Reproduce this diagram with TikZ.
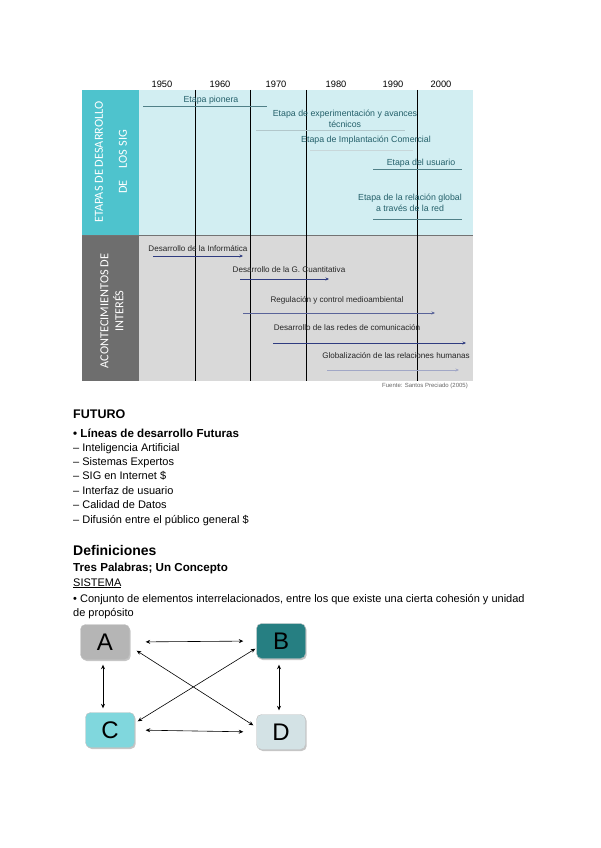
\documentclass[tikz,border=0pt]{standalone}
\usepackage{fontspec}
\setmainfont{Liberation Sans}
\newfontfamily\calibri{Carlito}
\usetikzlibrary{arrows.meta,positioning,calc,shadows}
\definecolor{turq}{HTML}{4EC3CD}
\definecolor{turqc}{HTML}{D2EEF2}
\definecolor{grisos}{HTML}{6E6E6E}
\definecolor{grisc}{HTML}{D9D9D9}
\definecolor{tinta}{HTML}{24606A}
\definecolor{azulf}{HTML}{2F3C80}
\definecolor{cajaA}{HTML}{B5B5B5}
\definecolor{cajaB}{HTML}{267F82}
\definecolor{cajaC}{HTML}{80D7DD}
\definecolor{cajaD}{HTML}{D3E2E5}

\begin{document}
\begin{tikzpicture}[x=1pt,y=-1pt,
  anio/.style={font=\fontsize{9.3}{11}\selectfont,inner sep=0pt},
  columna/.style={rotate=90,align=center,text=white,font=\calibri\fontsize{12.3}{14}\selectfont,inner sep=0pt},
  etapa/.style={text=tinta,align=center,font=\fontsize{8.8}{11.5}\selectfont,inner sep=0pt},
  aconte/.style={text=black!85,font=\fontsize{8.1}{9}\selectfont,inner sep=0pt},
  barra/.style={draw=tinta!80,line width=0.6pt},
  flecha/.style={draw=azulf,line width=0.7pt,-{Stealth[length=3.5pt,width=3pt]}},
  texto/.style={anchor=base west,inner sep=0pt,font=\fontsize{11}{13}\selectfont},
  caja/.style={rounded corners=5pt,minimum width=49pt,minimum height=35pt,inner sep=0pt,
               font=\fontsize{24}{26}\selectfont,draw=black!25,
               drop shadow={shadow xshift=1.2pt,shadow yshift=-1.5pt,opacity=.45}},
  enlace/.style={{Stealth[length=4.5pt,width=4pt]}-{Stealth[length=4.5pt,width=4pt]},line width=0.6pt}]
  \useasboundingbox (0,0) rectangle (600,848);
  % cuadro de etapas
  \fill[turqc] (139,90) rectangle (473,235);
  \fill[turq] (82,90) rectangle (139,235);
  \fill[grisc] (139,235) rectangle (473,381);
  \fill[grisos] (82,235) rectangle (139,381);
  \draw[black!55,line width=0.6pt] (82,235) -- (473,235);
  \foreach \x in {195,250,306,417}
    \draw[line width=0.7pt] (\x,90) -- (\x,381);
  \foreach \a/\x in {1950/162,1960/220,1970/276,1980/336,1990/393,2000/441}
    \node[anio] (a\a) at (\x,84) {\a};
  \node[columna] (etapas) at (111,162) {ETAPAS DE DESARROLLO\\[10pt]DE\quad LOS SIG};
  \node[columna] (aconte) at (112,311) {ACONTECIMIENTOS DE\\[1pt]INTERÉS};
  % etapas de desarrollo
  \node[etapa] (pionera) at (211,100) {Etapa pionera};
  \draw[barra] (143,106) -- (267,106);
  \node[etapa] (experim) at (345,119) {Etapa de experimentación y avances\\técnicos};
  \draw[barra,draw=tinta!35] (256,130) -- (405,130);
  \node[etapa] (implant) at (366,140) {Etapa de Implantación Comercial};
  \draw[barra,draw=tinta!25] (310,150) -- (413,150);
  \node[etapa] (usuario) at (421,163) {Etapa del usuario};
  \draw[barra] (373,169) -- (462,169);
  \node[etapa] (global) at (410,203) {Etapa de la relación global\\a través de la red};
  \draw[barra] (373,219) -- (462,219);
  % acontecimientos
  \node[aconte] (informat) at (198,249) {Desarrollo de la Informática};
  \draw[flecha] (153,256) -- (243,256);
  \node[aconte] (cuantit) at (289,270) {Desarrollo de la G. Cuantitativa};
  \draw[flecha] (240,279) -- (329,279);
  \node[aconte] (regul) at (337,300) {Regulación y control medioambiental};
  \draw[flecha,draw=azulf!80] (243,313) -- (435,313);
  \node[aconte] (redes) at (347,328) {Desarrollo de las redes de comunicación};
  \draw[flecha] (273,343) -- (466,343);
  \node[aconte] (globaliz) at (396,356) {Globalización de las relaciones humanas};
  \draw[flecha,draw=azulf!45] (327,370) -- (459,370);
  \node[anchor=north east,inner sep=0pt,text=black!60,font=\fontsize{6}{7}\selectfont] (fuente) at (468,383) {Fuente: Santos Preciado (2005)};
  % futuro
  \node[texto,font=\bfseries\fontsize{12.5}{14}\selectfont] (futuro) at (73,418) {FUTURO};
  \node[texto,font=\bfseries\fontsize{11.6}{14}\selectfont] (lineas) at (73,437) {• Líneas de desarrollo Futuras};
  \foreach \t [count=\i] in {Inteligencia Artificial,Sistemas Expertos,SIG en Internet \$,Interfaz de usuario,Calidad de Datos,Difusión entre el público general \$}
    \node[texto] (linea\i) at (73,{451+(\i-1)*14.4}) {– \t};
  % definiciones
  \node[texto,font=\bfseries\fontsize{14}{16}\selectfont] (defin) at (73,555) {Definiciones};
  \node[texto,font=\bfseries\fontsize{11.6}{14}\selectfont] (tres) at (73,571) {Tres Palabras; Un Concepto};
  \node[texto] (sistema) at (73,586) {\underline{SISTEMA}};
  \node[texto] (conjunto) at (73,602) {• Conjunto de elementos interrelacionados, entre los que existe una cierta cohesión y unidad};
  \node[texto] (proposito) at (73,616) {de propósito};
  % sistema A B C D
  \node[caja,fill=cajaA] (A) at (105,642) {A};
  \node[caja,fill=cajaB] (B) at (281,641) {B};
  \node[caja,fill=cajaC] (C) at (110,730) {C};
  \node[caja,fill=cajaD] (D) at (281,732) {D};
  \draw[enlace,shorten <=16pt,shorten >=13pt] (A.east) -- (B.west);
  \draw[enlace,shorten <=11pt,shorten >=13pt] (C.east) -- (D.west);
  \draw[enlace] ([shift={(-2,5)}]A.south) -- ([shift={(-2,-4)}]A.south |- C.north);
  \draw[enlace] ([shift={(-2,6)}]B.south) -- ([shift={(-2,-4)}]B.south |- D.north);
  \draw[enlace] ([shift={(7,-9)}]A.south east) -- ([shift={(-3,11)}]D.north west);
  \draw[enlace] ([shift={(-1,-10)}]B.south west) -- ([shift={(3,9)}]C.north east);
\end{tikzpicture}
\end{document}
